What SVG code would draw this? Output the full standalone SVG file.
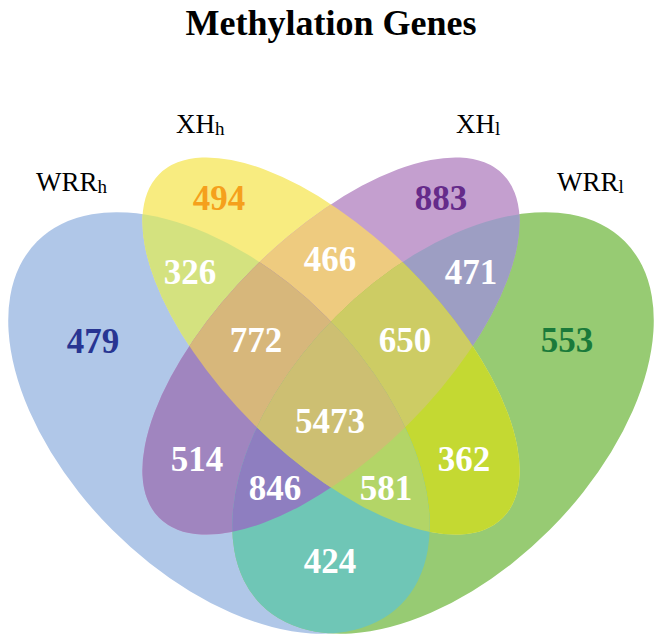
<svg xmlns="http://www.w3.org/2000/svg" xmlns:xlink="http://www.w3.org/1999/xlink" width="662" height="641" viewBox="0 0 662 641">
<style>
.num{font-family:"Liberation Serif","Times New Roman",serif;font-weight:bold;font-size:35px;text-anchor:middle;fill:#ffffff}
.title{font-family:"Liberation Serif","Times New Roman",serif;font-weight:bold;font-size:36px;text-anchor:middle;fill:#000}
.lab{font-family:"Liberation Serif","Times New Roman",serif;font-size:27px;fill:#000}
.sub{font-size:19px}
</style>
<defs>
<ellipse id="eB" cx="0" cy="0" rx="257" ry="151" transform="translate(219,423) rotate(45)"/>
<ellipse id="eG" cx="0" cy="0" rx="257" ry="151" transform="translate(443,423) rotate(-45)"/>
<ellipse id="eY" cx="0" cy="0" rx="243" ry="110" transform="translate(331,346) rotate(45)"/>
<ellipse id="eP" cx="0" cy="0" rx="243" ry="110" transform="translate(331,346) rotate(-45)"/>
<clipPath id="cB"><ellipse cx="0" cy="0" rx="257" ry="151" transform="translate(219,423) rotate(45)"/></clipPath>
<clipPath id="cG"><ellipse cx="0" cy="0" rx="257" ry="151" transform="translate(443,423) rotate(-45)"/></clipPath>
<clipPath id="cY"><ellipse cx="0" cy="0" rx="243" ry="110" transform="translate(331,346) rotate(45)"/></clipPath>
<clipPath id="cP"><ellipse cx="0" cy="0" rx="243" ry="110" transform="translate(331,346) rotate(-45)"/></clipPath>
</defs>
<rect width="662" height="641" fill="#ffffff"/>
<text class="title" x="331" y="35">Methylation Genes</text>

<g id="set-WRRh"><use xlink:href="#eB" href="#eB" fill="#B0C7E8"/></g>
<g id="set-WRRl"><use xlink:href="#eG" href="#eG" fill="#97CB73"/></g>
<g id="set-XHh"><use xlink:href="#eY" href="#eY" fill="#F8EC80"/></g>
<g id="set-XHl"><use xlink:href="#eP" href="#eP" fill="#C49FCF"/></g>

<g id="overlaps">
<g clip-path="url(#cB)"><use href="#eY" fill="#D4E27F"/></g>
<g clip-path="url(#cY)"><use href="#eP" fill="#EECB7F"/></g>
<g clip-path="url(#cP)"><use href="#eG" fill="#9D9EC3"/></g>
<g clip-path="url(#cB)"><use href="#eP" fill="#A085BF"/></g>
<g clip-path="url(#cY)"><use href="#eG" fill="#C4D932"/></g>
<g clip-path="url(#cB)"><use href="#eG" fill="#6FC6B6"/></g>
<g clip-path="url(#cB)"><g clip-path="url(#cY)"><use href="#eP" fill="#D7B77B"/></g></g>
<g clip-path="url(#cY)"><g clip-path="url(#cP)"><use href="#eG" fill="#CDCC64"/></g></g>
<g clip-path="url(#cB)"><g clip-path="url(#cP)"><use href="#eG" fill="#8E7EC0"/></g></g>
<g clip-path="url(#cB)"><g clip-path="url(#cY)"><use href="#eG" fill="#B3D567"/></g></g>
<g clip-path="url(#cB)"><g clip-path="url(#cY)"><g clip-path="url(#cP)"><use href="#eG" fill="#CDBF72"/></g></g></g>
</g>

<g id="set-labels">
<text class="lab" x="36" y="191">WRR<tspan class="sub" dy="2">h</tspan></text>
<text class="lab" x="176" y="133">XH<tspan class="sub" dy="2">h</tspan></text>
<text class="lab" x="456" y="133">XH<tspan class="sub" dy="2">l</tspan></text>
<text class="lab" x="557" y="191">WRR<tspan class="sub" dy="2">l</tspan></text>
</g>

<g id="counts">
<text class="num" x="93" y="353" style="fill:#283592">479</text>
<text class="num" x="219" y="210" style="fill:#F5A01C">494</text>
<text class="num" x="441" y="210" style="fill:#652B8A">883</text>
<text class="num" x="567" y="352" style="fill:#1A7A3A">553</text>
<text class="num" x="190" y="284">326</text>
<text class="num" x="330" y="271">466</text>
<text class="num" x="471" y="284">471</text>
<text class="num" x="256" y="352">772</text>
<text class="num" x="405" y="352">650</text>
<text class="num" x="330" y="433">5473</text>
<text class="num" x="197" y="471">514</text>
<text class="num" x="275" y="500">846</text>
<text class="num" x="386" y="500">581</text>
<text class="num" x="464" y="471">362</text>
<text class="num" x="330" y="573">424</text>
</g>
</svg>
